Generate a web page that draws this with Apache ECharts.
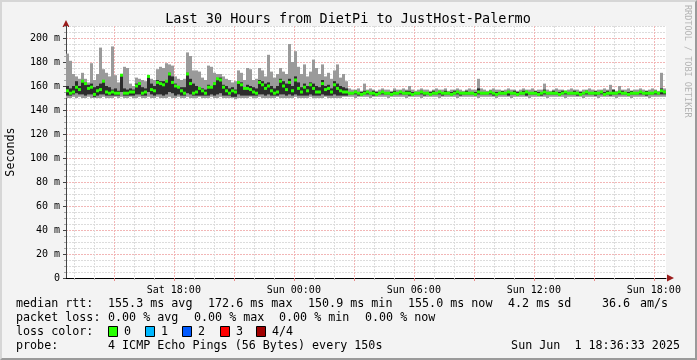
<!DOCTYPE html>
<html><head><meta charset="utf-8">
<script src="https://cdn.jsdelivr.net/npm/echarts@6/dist/echarts.min.js"></script>
<style>
html,body{margin:0;padding:0;background:#f3f3f3;}
#wrap{position:relative;width:697px;height:360px;}
#chart{position:absolute;left:0;top:0;width:697px;height:360px;}
#frame{position:absolute;left:0;top:0;width:693px;height:356px;border-top:2px solid #d6d6d6;border-left:2px solid #d6d6d6;border-right:2px solid #9a9a9a;border-bottom:2px solid #9a9a9a;pointer-events:none;}
</style></head>
<body><div id="wrap"><div id="chart"></div><div id="frame"></div></div>
<script>
// time axis in hours since Sat 00:00
const startHour = 12 + 36/60 + 33/3600;   // Sat 12:36:33
const endHour = startHour + 30;           // Sun 18:36:33
const slotHours = 0.15;                   // one sample column = 9 min
const hourTicks = [13,14,15,16,17,18,19,20,21,22,23,24,25,26,27,28,29,30,31,32,33,34,35,36,37,38,39,40,41,42];
const majorHourTicks = [15,18,21,24,27,30,33,36,39,42];
const labelHourTicks = [18,24,30,36,42];
const yMajorTicks = [0,20,40,60,80,100,120,140,160,180,200];

// smoke top (max ping), dark band top/bottom, smoke bottom (min ping), median — in ms
const maxV = [
187,181,170,168,166,171,166,163,179,165,
170,192,174,171,168,193,169,163,170,176,
175,162,160,167,166,165,164,169,166,165,
174,176,175,179,178,177,168,166,165,166,
188,185,173,173,172,167,165,177,176,171,
170,170,168,166,165,163,164,173,171,165,
175,174,165,166,175,173,168,186,172,167,
170,175,172,170,195,180,189,176,170,178,
168,172,182,175,170,178,168,171,166,173,
178,167,170,164,
158,157,157,158,156,162,157,158,157,156,
157,158,157,157,156,158,157,157,158,157,
160,157,156,157,158,157,157,156,157,158,
157,157,158,156,157,157,158,157,156,157,
158,157,157,166,158,157,156,157,158,157,
157,156,157,158,157,157,156,157,158,157,
157,158,156,157,157,162,157,156,157,158,
157,157,156,157,158,157,157,156,157,157,
158,157,156,157,157,158,157,161,157,156,
160,157,157,158,156,157,157,158,157,156,
157,158,157,156,171,158];
const darkHi = [
160,158,160,164,160,165,163,161,162,159,
160,162,165,160,159,157,158,156,170,158,
157,158,157,162,163,159,158,168,162,160,
165,164,164,165,171,168,162,160,159,159,
171,166,162,160,159,158,157,161,160,163,
166,167,161,160,158,159,157,164,163,159,
161,160,159,158,165,164,162,163,160,158,
160,166,164,162,166,160,168,163,159,162,
160,163,162,160,159,165,160,161,158,164,
162,160,159,158,
155,155,156,155,155,156,155,155,156,155,
155,156,155,155,155,156,155,155,155,156,
156,155,155,155,156,155,155,155,156,155,
155,155,156,155,155,156,155,155,155,156,
155,155,155,158,155,155,155,156,155,155,
155,156,155,155,155,156,155,155,156,155,
155,155,156,155,155,157,155,155,156,155,
155,156,155,155,155,156,155,155,155,156,
155,155,156,155,155,155,156,155,157,155,
155,156,155,155,156,155,155,155,155,156,
155,155,156,155,158,156];
const darkLo = [
152,152,153,154,153,153,152,153,153,151,
152,153,153,152,152,152,152,152,155,152,
152,152,152,153,153,152,152,155,153,152,
153,153,152,153,155,154,152,153,152,152,
154,153,152,152,152,152,152,152,153,152,
153,154,152,152,152,151,151,153,152,152,
152,152,152,152,153,153,152,153,152,152,
152,153,153,152,153,152,153,152,152,152,
152,153,152,152,152,153,152,152,152,153,
152,152,152,152,
153,153,153,152,153,153,153,153,152,153,
153,153,153,153,152,153,153,153,153,153,
152,153,153,153,153,152,153,153,153,153,
153,152,153,153,153,153,153,152,153,153,
153,153,152,153,153,153,153,153,152,153,
153,153,153,152,153,153,153,153,153,152,
153,153,153,153,152,153,153,153,153,153,
152,153,153,153,153,153,152,153,153,153,
153,153,152,153,153,153,153,152,153,153,
153,153,153,152,153,153,153,153,153,152,
153,153,153,153,153,153];
const minV = [
150,150,151,150,151,150,150,151,150,150,
150,150,151,150,150,150,151,150,151,150,
150,151,150,150,151,150,150,151,150,150,
151,150,150,150,151,150,150,151,150,150,
151,150,150,150,151,150,150,150,151,150,
150,151,150,150,150,150,149,150,150,150,
150,151,150,150,151,150,150,150,150,150,
151,150,150,150,150,150,151,150,150,150,
150,151,150,150,150,150,151,150,150,150,
150,150,151,151,
151,151,150,151,151,151,151,150,151,151,
151,151,151,150,151,151,151,151,151,150,
151,151,151,151,150,151,151,151,151,151,
150,151,151,151,151,151,150,151,151,151,
151,151,151,150,151,151,151,151,151,150,
151,151,151,151,150,151,151,151,151,151,
150,151,151,151,151,151,150,151,151,151,
151,151,150,151,151,151,151,151,150,151,
151,151,151,150,151,151,151,151,151,150,
151,151,151,151,150,151,151,151,151,151,
150,151,151,151,151,151];
const medianV = [
156,154,155,159,157,164,162,158,159,153,
156,157,164,155,154,155,154,154,169,154,
154,155,155,160,162,154,155,168,157,156,
163,162,161,164,170,163,160,159,156,154,
170,162,154,155,158,156,154,159,159,162,
166,165,159,156,154,156,155,163,161,158,
158,157,155,154,163,161,158,160,156,154,
155,164,160,157,163,156,165,158,155,159,
156,161,158,155,155,162,157,158,155,161,
158,156,155,155,
154,154,155,154,153,154,155,154,154,153,
154,155,154,154,153,154,154,155,154,154,
154,153,154,154,155,154,154,153,154,154,
155,154,154,154,153,154,155,154,154,154,
154,154,153,155,154,154,154,155,154,153,
154,154,154,155,154,154,153,154,154,155,
154,154,154,153,154,155,154,154,154,154,
153,154,155,154,154,154,154,153,154,155,
154,154,154,154,155,153,154,154,154,154,
155,154,154,153,154,154,154,155,154,154,
154,154,155,154,156,155];

const titleText = 'Last 30 Hours from DietPi to JustHost-Palermo';
const rttStats = ['155.3 ms avg','172.6 ms max','150.9 ms min','155.0 ms now','4.2 ms sd','36.6','am/s'];
const lossStats = ['0.00 % avg','0.00 % max','0.00 % min','0.00 % now'];
const lossLabels = ['0','1','2','3','4/4'];
const lossColors = ['#26ff00','#00b8ff','#0059ff','#ff0000','#a00000'];
const probeText = '4 ICMP Echo Pings (56 Bytes) every 150s';
const stampText = 'Sun Jun  1 18:36:33 2025';

// layout (pixels)
const rttX = [108,208,308,408,508,602,640];
const lossX = [108,194,279,365];
const boxX = [108,145,182,220,256];
const rowY = [304,318,332,346];

const FONT = '"DejaVu Sans Mono", monospace';
const smokeData = maxV.map((v,i)=>[startHour + (i+0.5)*slotHours, minV[i], darkLo[i], darkHi[i], v]);
const medData = medianV.map((v,i)=>[startHour + (i+0.5)*slotHours, v]);

function fmtTime(v){
  const day = v < 24 ? 'Sat' : 'Sun';
  const h = Math.round(v % 24);
  return day + ' ' + (h<10?'0':'') + h + ':00';
}

const chart = echarts.init(document.getElementById('chart'), null, {renderer:'canvas'});
const graphics = [];
function txt(x,y,t,opts){
  graphics.push(Object.assign({type:'text', x:x, y:y, silent:true,
    style:Object.assign({text:t, fill:'#000', font:'11.7px '+FONT, align:'left', verticalAlign:'middle'}, (opts&&opts.style)||{})},
    opts && opts.rotation!==undefined ? {rotation:opts.rotation} : {}));
}
txt(348,19,titleText,{style:{font:'13.5px '+FONT, align:'center'}});
txt(11,152,'Seconds',{rotation:Math.PI/2, style:{align:'center'}});
txt(687,5,'RRDTOOL / TOBI OETIKER',{rotation:-Math.PI/2, style:{font:'8.5px '+FONT, fill:'#b4b4b4', align:'left'}});
txt(16,rowY[0],'median rtt:');
rttStats.forEach((s,i)=>txt(rttX[i],rowY[0],s));
txt(16,rowY[1],'packet loss:');
lossStats.forEach((s,i)=>txt(lossX[i],rowY[1],s));
txt(16,rowY[2],'loss color:');
lossLabels.forEach((s,i)=>{
  graphics.push({type:'rect', silent:true, shape:{x:boxX[i]+0.5, y:rowY[2]-5.5, width:9, height:10}, style:{fill:lossColors[i], stroke:'#000', lineWidth:1}});
  txt(boxX[i]+16,rowY[2],s);
});
txt(16,rowY[3],'probe:');
txt(108,rowY[3],probeText);
txt(680,rowY[3],stampText,{style:{align:'right'}});
// axis arrows
graphics.push({type:'polygon', silent:true, shape:{points:[[66,20],[62.5,27],[69.5,27]]}, style:{fill:'#9b1c1c'}});
graphics.push({type:'polygon', silent:true, shape:{points:[[674,278],[667,274.5],[667,281.5]]}, style:{fill:'#9b1c1c'}});

const minorGrid = {show:true, lineStyle:{color:'#dcdcdc', type:[2,1], width:1}};
const majorGrid = {show:true, lineStyle:{color:'#f2b6b6', type:[2,1], width:1}};

chart.setOption({
  animation:false,
  backgroundColor:'#f3f3f3',
  grid:{left:66, right:31, top:26, bottom:82, containLabel:false, backgroundColor:'#fff', show:true, borderWidth:0},
  xAxis:[
    {type:'value', min:startHour, max:endHour, position:'bottom',
     axisLine:{show:true, onZero:false, lineStyle:{color:'#000', width:1}},
     axisTick:{show:true, customValues:hourTicks, length:2, lineStyle:{color:'#bbb'}},
     axisLabel:{show:false}, splitLine:minorGrid},
    {type:'value', min:startHour, max:endHour, position:'bottom', gridIndex:0, offset:0,
     axisLine:{show:false},
     axisTick:{show:true, customValues:majorHourTicks, length:3, lineStyle:{color:'#e58a8a'}},
     axisLabel:{show:true, customValues:labelHourTicks, formatter:fmtTime, margin:7,
       fontFamily:'DejaVu Sans Mono', fontSize:10, color:'#000'},
     splitLine:majorGrid}
  ],
  yAxis:[
    {type:'value', min:0, max:210, interval:5, position:'left',
     axisLine:{show:true, onZero:false, lineStyle:{color:'#444', width:1}},
     axisTick:{show:true, length:2, lineStyle:{color:'#aaa'}},
     axisLabel:{show:false}, splitLine:minorGrid},
    {type:'value', min:0, max:210, position:'left', offset:0,
     axisLine:{show:false},
     axisTick:{show:true, customValues:yMajorTicks, length:3, lineStyle:{color:'#444'}},
     axisLabel:{show:true, customValues:yMajorTicks, margin:6,
       formatter:(v)=> v===0 ? '0' : v+' m',
       fontFamily:'DejaVu Sans Mono', fontSize:10, color:'#000'},
     splitLine:majorGrid}
  ],
  series:[
    {type:'custom', name:'smoke', xAxisIndex:0, yAxisIndex:0, data:smokeData,
     encode:{x:0, y:[1,2,3,4]}, clip:true, silent:true,
     renderItem:function(params, api){
       const t = api.value(0);
       const w = api.size([slotHours,0])[0];
       const pMin = api.coord([t, api.value(1)]);
       const pDlo = api.coord([t, api.value(2)]);
       const pDhi = api.coord([t, api.value(3)]);
       const pMax = api.coord([t, api.value(4)]);
       return {type:'group', children:[
         {type:'rect', shape:{x:pMax[0]-w/2, y:pMax[1], width:w, height:pMin[1]-pMax[1]}, style:{fill:'#9a9a9a'}},
         {type:'rect', shape:{x:pDhi[0]-w/2, y:pDhi[1], width:w, height:pDlo[1]-pDhi[1]}, style:{fill:'#2c2c2c'}}
       ]};
     }},
    {type:'custom', name:'median', xAxisIndex:0, yAxisIndex:0, data:medData,
     encode:{x:0, y:1}, clip:true, silent:true,
     renderItem:function(params, api){
       const w = api.size([slotHours,0])[0];
       const p = api.coord([api.value(0), api.value(1)]);
       return {type:'rect', shape:{x:p[0]-w/2, y:p[1]-1.5, width:w, height:3}, style:{fill:lossColors[0]}};
     }}
  ],
  graphic:graphics
});
</script></body></html>
